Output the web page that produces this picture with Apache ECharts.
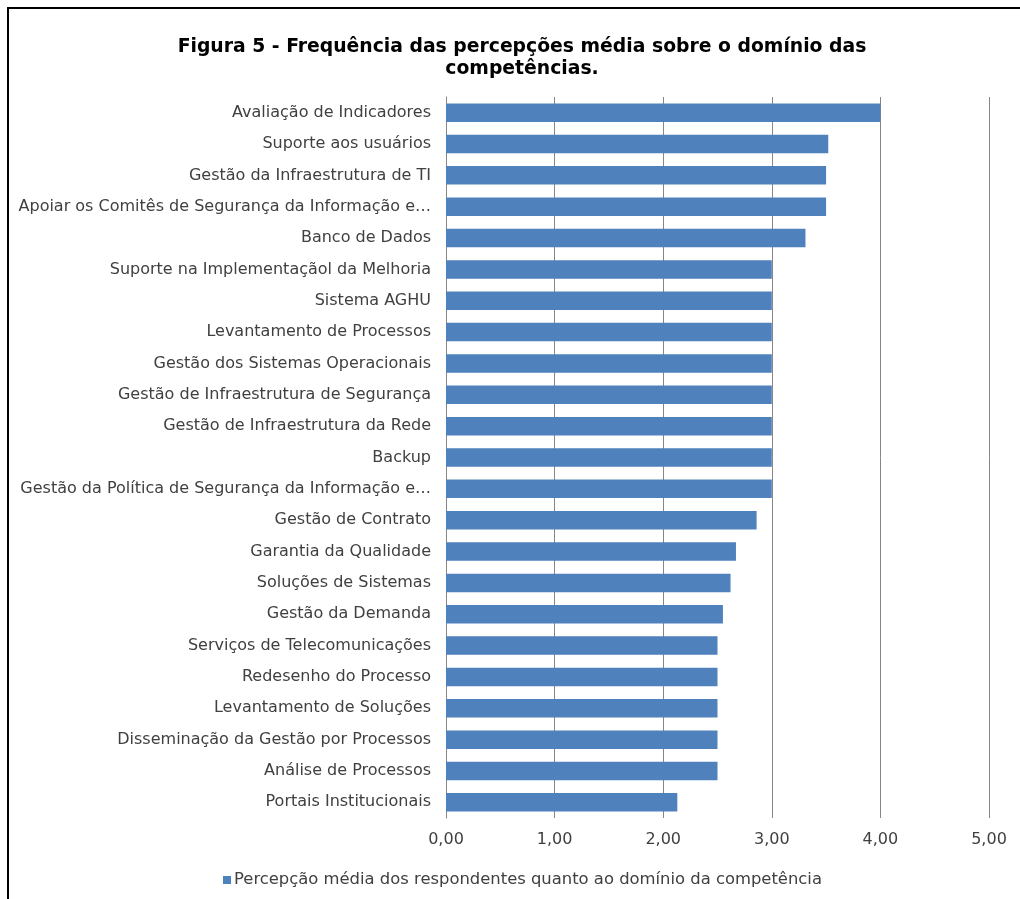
<!DOCTYPE html>
<html>
<head>
<meta charset="utf-8">
<script src="https://cdn.jsdelivr.net/npm/echarts@6/dist/echarts.min.js"></script>
<style>html,body{margin:0;padding:0;background:#fff;}#c{width:1020px;height:899px;}</style>
</head>
<body>
<div id="c"></div>
<script>
const titleText = "Figura 5 - Frequência das percepções média sobre o domínio das\ncompetências.";
const seriesName = "Percepção média dos respondentes quanto ao domínio da competência";
const categories = [
  "Avaliação de Indicadores",
  "Suporte aos usuários",
  "Gestão da Infraestrutura de TI",
  "Apoiar os Comitês de Segurança da Informação e…",
  "Banco de Dados",
  "Suporte na Implementaçãol da Melhoria",
  "Sistema AGHU",
  "Levantamento de Processos",
  "Gestão dos Sistemas Operacionais",
  "Gestão de Infraestrutura de Segurança",
  "Gestão de Infraestrutura da Rede",
  "Backup",
  "Gestão da Política de Segurança da Informação e…",
  "Gestão de Contrato",
  "Garantia da Qualidade",
  "Soluções de Sistemas",
  "Gestão da Demanda",
  "Serviços de Telecomunicações",
  "Redesenho do Processo",
  "Levantamento de Soluções",
  "Disseminação da Gestão por Processos",
  "Análise de Processos",
  "Portais Institucionais"
];
const values = [4.00, 3.52, 3.50, 3.50, 3.31, 3.00, 3.00, 3.00, 3.00, 3.00, 3.00, 3.00, 3.00,
  2.86, 2.67, 2.62, 2.55, 2.50, 2.50, 2.50, 2.50, 2.50, 2.13];
const xMin = 0, xMax = 5, xInterval = 1;

const chart = echarts.init(document.getElementById('c'), null, {renderer: 'canvas'});
const textColor = '#404040';
const font = 'DejaVu Sans';
chart.setOption({
  animation: false,
  backgroundColor: '#ffffff',
  title: {
    text: titleText,
    left: 517,
    textAlign: 'center',
    top: 31,
    textStyle: {fontFamily: 'DejaVu Sans', fontWeight: 'bold', fontSize: 18.8, color: '#000', lineHeight: 22}
  },
  legend: {
    bottom: 6,
    left: 218,
    itemWidth: 8, itemHeight: 8, itemGap: 5,
    icon: 'rect',
    textStyle: {fontFamily: font, fontSize: 16.4, color: textColor, padding: [0,0,0,-2]},
    data: [seriesName]
  },
  grid: {left: 446, right: 31, top: 97, bottom: 81, containLabel: false},
  xAxis: {
    type: 'value', min: xMin, max: xMax, interval: xInterval,
    axisLine: {show: false},
    axisTick: {show: false},
    splitLine: {show: true, lineStyle: {color: '#868686', width: 1}},
    axisLabel: {margin: 14, fontFamily: font, fontSize: 16, color: textColor,
      formatter: v => v.toFixed(2).replace('.', ',')}
  },
  yAxis: {
    type: 'category', data: categories, inverse: true,
    axisLine: {show: true, lineStyle: {color: '#868686', width: 1}},
    axisTick: {show: false},
    axisLabel: {margin: 15, fontFamily: font, fontSize: 16, color: textColor}
  },
  series: [{
    name: seriesName, type: 'bar', data: values,
    barCategoryGap: '41%',
    itemStyle: {color: '#4F81BD'}
  }],
  graphic: [{
    type: 'rect', silent: true,
    shape: {x: 8, y: 8, width: 1100, height: 1000},
    style: {fill: 'none', stroke: '#000', lineWidth: 2}
  }]
});
</script>
</body>
</html>
